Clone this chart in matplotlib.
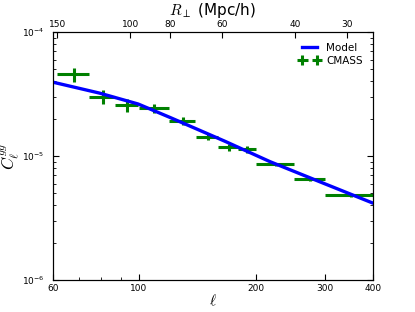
import numpy as np
import matplotlib
matplotlib.use("Agg")
import matplotlib.pyplot as plt
from matplotlib.ticker import LogLocator, NullLocator, FixedLocator, FixedFormatter

plt.rcParams['mathtext.fontset'] = 'cm'
plt.rcParams['font.family'] = ['DejaVu Sans']

# CMASS measurements
ell_cmass = [68.0, 80.7, 93.3, 109.5, 129.5, 150.0, 170.0, 190.0, 225.0, 275.0, 350.0]
ell_halfw = [6.3, 6.3, 6.3, 9.8, 10.0, 10.0, 10.0, 10.0, 25.0, 25.0, 50.0]
cl_cmass = [4.56e-5, 3.01e-5, 2.58e-5, 2.44e-5, 1.93e-5, 1.43e-5, 1.175e-5, 1.13e-5, 8.62e-6, 6.49e-6, 4.82e-6]
cl_err = [0.6e-5, 0.39e-5, 0.3e-5, 0.2e-5, 0.15e-5, 0.09e-5, 0.08e-5, 0.07e-5, 0.25e-6, 0.2e-6, 0.15e-6]

# Model curve
ell_model = [60, 79.2, 99.5, 120.1, 166.3, 217.3, 291.9, 400]
cl_model = [3.95e-5, 3.22e-5, 2.63e-5, 2.05e-5, 1.316e-5, 9.0e-6, 6.19e-6, 4.16e-6]

# Top axis: transverse scale
R_ticks = [150, 100, 80, 60, 40, 30]
R_labels = ['150', '100', '80', '60', '40', '30']
x_ticks = [60, 100, 200, 300, 400]
x_labels = ['60', '100', '200', '300', '400']


def ell_of_R(R):
    return 61.66 * (150.0 / np.asarray(R, dtype=float)) ** 1.0642


fig = plt.figure(figsize=(4.15, 3.12), dpi=100)
fig.patch.set_facecolor('white')
ax = fig.add_axes([0.127, 0.1026, 0.7725, 0.7944])

ax.plot(ell_model, cl_model, color='blue', lw=2.4, label='Model', zorder=3)
ax.errorbar(ell_cmass, cl_cmass, xerr=ell_halfw, yerr=cl_err, fmt='none',
            ecolor='green', elinewidth=2.2, capsize=0, label='CMASS', zorder=2)

ax.set_xscale('log')
ax.set_yscale('log')
ax.set_xlim(60, 400)
ax.set_ylim(1e-6, 1e-4)

ax.xaxis.set_major_locator(FixedLocator(x_ticks))
ax.xaxis.set_major_formatter(FixedFormatter(x_labels))
ax.xaxis.set_minor_locator(LogLocator(base=10, subs=np.arange(2, 10)))
ax.xaxis.set_minor_formatter(FixedFormatter([]))
ax.yaxis.set_minor_locator(LogLocator(base=10, subs=np.arange(2, 10)))

ax.tick_params(which='both', direction='in', top=False, right=True, labelsize=6.5)
ax.tick_params(which='major', length=4, width=0.8, pad=3)
ax.tick_params(which='minor', length=2, width=0.6)
ax.tick_params(axis='y', which='major', pad=6)

ax.set_xlabel(r'$\ell$', fontsize=11, labelpad=0)
ax.set_ylabel(r'$C_\ell^{gg}$', fontsize=12)
ax.yaxis.set_label_coords(-0.095, 0.5)

ax2 = ax.twiny()
ax2.set_xscale('log')
ax2.set_xlim(ax.get_xlim())
ax2.xaxis.set_major_locator(FixedLocator(list(ell_of_R(R_ticks))))
ax2.xaxis.set_major_formatter(FixedFormatter(R_labels))
ax2.xaxis.set_minor_locator(NullLocator())
ax2.tick_params(which='both', direction='in', labelsize=6.5, length=4, width=0.8, pad=2)
ax2.set_xlabel(r'$R_\perp$ (Mpc/h)', fontsize=11, labelpad=4)

leg = ax.legend(loc='upper right', frameon=False, fontsize=7.5, numpoints=2,
                handlelength=2.0, handletextpad=0.6, borderaxespad=0.6, labelspacing=0.3)

fig.savefig('out.png', dpi=100, facecolor='white')
